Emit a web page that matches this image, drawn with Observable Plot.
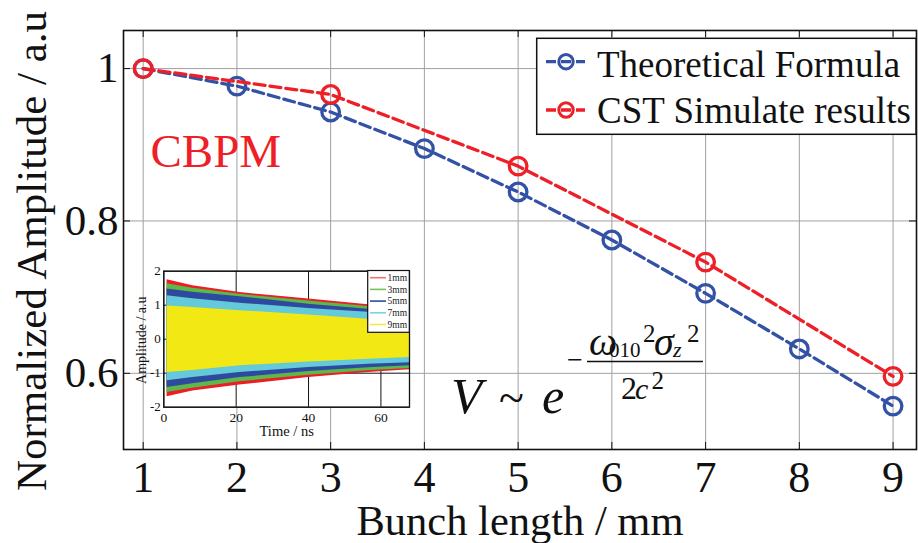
<!DOCTYPE html>
<html><head><meta charset="utf-8">
<script src="https://cdn.jsdelivr.net/npm/d3@7"></script>
<script src="https://cdn.jsdelivr.net/npm/@observablehq/plot@0.6"></script>
<style>
html,body{margin:0;padding:0;background:#fff;}
#wrap{position:relative;width:918px;height:543px;overflow:hidden;background:#fff;}
#wrap svg{position:absolute;}
</style></head><body><div id="wrap"></div>
<script>
// ---- main chart data ----
const bunchLength = [1, 2, 3, 4, 5, 6, 7, 8, 9];
const theoretical = [1.000, 0.977, 0.943, 0.895, 0.838, 0.775, 0.705, 0.632, 0.557];
const cstLength = [1, 3, 5, 7, 9];
const cstSimulated = [1.000, 0.966, 0.872, 0.746, 0.596];
const xTicks = [1, 2, 3, 4, 5, 6, 7, 8, 9];
const yTicks = [0.6, 0.8, 1];
const seriesNames = ["Theoretical Formula", "CST Simulate results"];
const xLabel = "Bunch length / mm";
const yLabel = "Normalized Amplitude / a.u";
const annotation = "CBPM";

// ---- inset data (signal envelopes) ----
const insetTime = [0.9, 8, 21, 40, 56.5, 67.9];
const insetNames = ["1mm", "3mm", "5mm", "7mm", "9mm"];
const top1mm = [1.75, 1.57, 1.37, 1.18, 1.01, 0.93];
const bot1mm = [-1.69, -1.52, -1.35, -1.13, -0.98, -0.90];
const top3mm = [1.63, 1.50, 1.32, 1.12, 0.96, 0.88];
const bot3mm = [-1.57, -1.44, -1.25, -1.06, -0.93, -0.86];
const top5mm = [1.48, 1.38, 1.25, 1.03, 0.88, 0.80];
const bot5mm = [-1.42, -1.31, -1.13, -0.95, -0.84, -0.78];
const top7mm = [1.28, 1.19, 1.06, 0.90, 0.79, 0.71];
const bot7mm = [-1.22, -1.13, -0.98, -0.83, -0.74, -0.69];
const top9mm = [0.98, 0.93, 0.84, 0.71, 0.59, 0.55];
const bot9mm = [-0.98, -0.92, -0.78, -0.67, -0.59, -0.54];
const insetXTicks = [0, 20, 40, 60];
const insetYTicks = [-2, -1, 0, 1, 2];

// ---- styles ----
const serif = "'Liberation Serif','Times New Roman',serif";
const BLUE = "#3352a5", RED = "#ee1f26";
const bandColors = ["#ee1c24", "#5cb84a", "#2e4a9f", "#64c9d8", "#f2e914"];
const legendLineColors = ["#f27070", "#74c45a", "#2e4aa0", "#78d4e2", "#f3ea40"];

const W = 918, H = 543, mL = 123, mT = 30, mR = 2, mB = 94;
const plotH = H - mT - mB, plotW = W - mL - mR;

const theo = bunchLength.map((x, i) => ({x, y: theoretical[i]}));
const cst = cstLength.map((x, i) => ({x, y: cstSimulated[i]}));

const main = Plot.plot({
  width: W, height: H,
  marginLeft: mL, marginTop: mT, marginRight: mR, marginBottom: mB,
  style: {fontFamily: serif, background: "white", overflow: "visible", color: "#111"},
  x: {domain: [0.79, 9.25]},
  y: {domain: [0.5, 1.05]},
  marks: [
    Plot.gridX({ticks: xTicks, stroke: "#a0a0a0", strokeOpacity: 1, strokeWidth: 1}),
    Plot.gridY({ticks: yTicks, stroke: "#a0a0a0", strokeOpacity: 1, strokeWidth: 1}),
    Plot.tickX(xTicks, {x: d => d, insetTop: plotH - 7, stroke: "#111", strokeWidth: 1}),
    Plot.tickX(xTicks, {x: d => d, insetBottom: plotH - 7, stroke: "#111", strokeWidth: 1}),
    Plot.tickY(yTicks, {y: d => d, insetRight: plotW - 7, stroke: "#111", strokeWidth: 1}),
    Plot.tickY(yTicks, {y: d => d, insetLeft: plotW - 7, stroke: "#111", strokeWidth: 1}),
    Plot.frame({stroke: "#111", strokeWidth: 1.6}),
    Plot.axisX({ticks: xTicks, tickSize: 0, tickPadding: 11, fontSize: 44, label: null, tickFormat: d => String(d)}),
    Plot.axisY({ticks: yTicks, tickSize: 0, tickPadding: 5, fontSize: 43, label: null, tickFormat: d => String(d)}),
    Plot.text([xLabel], {frameAnchor: "bottom", lineAnchor: "middle", textAnchor: "middle", dy: 72, fontSize: 42.5}),
    Plot.text([yLabel], {frameAnchor: "left", lineAnchor: "middle", textAnchor: "middle", rotate: -90, dx: -91, dy: 11, fontSize: 43}),
    Plot.text([annotation], {frameAnchor: "top-left", lineAnchor: "middle", textAnchor: "start", dx: 27, dy: 121.5, fontSize: 47, fill: RED}),
    Plot.line(theo, {x: "x", y: "y", stroke: BLUE, strokeWidth: 3.3, strokeDasharray: "11,5"}),
    Plot.dot(theo, {x: "x", y: "y", r: 8.8, stroke: BLUE, strokeWidth: 3.3, fill: "none"}),
    Plot.line(cst, {x: "x", y: "y", stroke: RED, strokeWidth: 3.3, strokeDasharray: "11,5"}),
    Plot.dot(cst, {x: "x", y: "y", r: 8.8, stroke: RED, strokeWidth: 3.3, fill: "none"})
  ]
});
main.style.left = "0px"; main.style.top = "0px";
document.getElementById("wrap").appendChild(main);

// main legend
const ms = d3.select(main);
const lg = ms.append("g").attr("text-anchor", "start").attr("font-family", serif);
lg.append("rect").attr("x", 536.7).attr("y", 38.3).attr("width", 379.3).attr("height", 96)
  .attr("fill", "white").attr("stroke", "#111").attr("stroke-width", 1.5);
[[BLUE, 61.7, 76.7], [RED, 110, 123.3]].forEach(([c, ly, by], i) => {
  lg.append("line").attr("x1", 546).attr("x2", 585).attr("y1", ly).attr("y2", ly)
    .attr("stroke", c).attr("stroke-width", 3.3).attr("stroke-dasharray", "10,5");
  lg.append("circle").attr("cx", 566).attr("cy", ly).attr("r", 7.2)
    .attr("fill", "none").attr("stroke", c).attr("stroke-width", 3);
  lg.append("text").attr("x", 597).attr("y", by).attr("font-size", 37)
    .attr("fill", "#111").text(seriesNames[i]);
});

// formula
const fg = ms.append("g").attr("font-family", serif).attr("fill", "#111").attr("text-anchor", "start");
fg.append("text").attr("x", 451).attr("y", 413).attr("font-size", 51).attr("font-style", "italic").text("V");
fg.append("text").attr("x", 499).attr("y", 413).attr("font-size", 46).text("~");
fg.append("text").attr("x", 542).attr("y", 413).attr("font-size", 50).attr("font-style", "italic").text("e");
fg.append("text").attr("x", 567).attr("y", 368.5).attr("font-size", 28).text("\u2212");
fg.append("line").attr("x1", 587).attr("x2", 703).attr("y1", 361.5).attr("y2", 361.5).attr("stroke", "#111").attr("stroke-width", 1.3);
fg.append("text").attr("x", 589).attr("y", 355).attr("font-size", 40).attr("font-style", "italic").text("\u03c9");
fg.append("text").attr("x", 609).attr("y", 357).attr("font-size", 21).text("010");
fg.append("text").attr("x", 643).attr("y", 342).attr("font-size", 25).text("2");
fg.append("text").attr("x", 654).attr("y", 355).attr("font-size", 40).attr("font-style", "italic").text("\u03c3");
fg.append("text").attr("x", 673).attr("y", 357).attr("font-size", 22).attr("font-style", "italic").text("z");
fg.append("text").attr("x", 687).attr("y", 342).attr("font-size", 25).text("2");
fg.append("text").attr("x", 621).attr("y", 398.5).attr("font-size", 32).text("2");
fg.append("text").attr("x", 635).attr("y", 398.5).attr("font-size", 30).attr("font-style", "italic").text("c");
fg.append("text").attr("x", 651.5).attr("y", 388.5).attr("font-size", 25).text("2");

// ---- inset ----
const tops = [top1mm, top3mm, top5mm, top7mm, top9mm];
const bots = [bot1mm, bot3mm, bot5mm, bot7mm, bot9mm];
const bands = insetNames.map((name, k) => insetTime.map((t, i) => ({t, hi: tops[k][i], lo: bots[k][i], name})));

const iL = 130, iT = 262, iW = 285, iH = 180;
const inset = Plot.plot({
  width: iW, height: iH,
  marginLeft: 33.3, marginTop: 8.7, marginRight: 6, marginBottom: 35.3,
  style: {fontFamily: serif, background: "transparent", overflow: "visible", color: "#111"},
  x: {domain: [0, 67.9]},
  y: {domain: [-2, 2]},
  marks: [
    Plot.frame({fill: "white"}),
    Plot.gridX({ticks: insetXTicks, stroke: "#111", strokeOpacity: 1}),
    Plot.gridY({ticks: insetYTicks, stroke: "#111", strokeOpacity: 1}),
    ...bands.map((b, k) => Plot.areaY(b, {x: "t", y1: "lo", y2: "hi", fill: bandColors[k], fillOpacity: 1})),
    Plot.frame({stroke: "#111", strokeWidth: 1.3}),
    Plot.axisX({ticks: insetXTicks, tickSize: 0, tickPadding: 5, fontSize: 13.5, label: null, tickFormat: d => String(d)}),
    Plot.axisY({ticks: insetYTicks, tickSize: 0, tickPadding: 3, fontSize: 13, label: null, tickFormat: d => String(d)}),
    Plot.text(["Time / ns"], {frameAnchor: "bottom", lineAnchor: "middle", textAnchor: "middle", dy: 23.7, fontSize: 14.5}),
    Plot.text(["Amplitude / a.u"], {frameAnchor: "left", lineAnchor: "middle", textAnchor: "middle", rotate: -90, dx: -21.8, dy: 1, fontSize: 14})
  ]
});
inset.style.left = iL + "px"; inset.style.top = iT + "px";
document.getElementById("wrap").appendChild(inset);

const il = d3.select(inset).append("g").attr("text-anchor", "start").attr("font-family", serif);
il.append("rect").attr("x", 237.7).attr("y", 8.5).attr("width", 41.6).attr("height", 61.8)
  .attr("fill", "white").attr("stroke", "#111").attr("stroke-width", 1.2);
insetNames.forEach((n, i) => {
  const y = 15.7 + i * 11.7;
  il.append("line").attr("x1", 240).attr("x2", 256).attr("y1", y).attr("y2", y)
    .attr("stroke", legendLineColors[i]).attr("stroke-width", 1.6);
  il.append("text").attr("x", 257.5).attr("y", y + 3.2).attr("font-size", 9.5)
    .attr("fill", "#222").text(n);
});
</script></body></html>
